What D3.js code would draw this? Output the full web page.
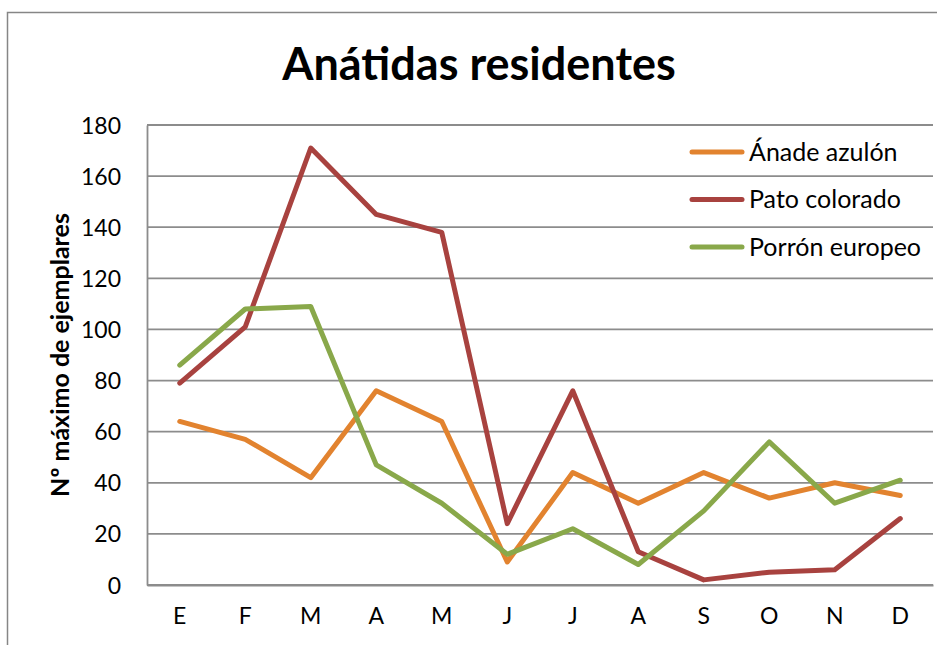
<!DOCTYPE html>
<html>
<head>
<meta charset="utf-8">
<script src="https://cdn.jsdelivr.net/npm/d3@7"></script>
<style>
  body { margin: 0; background: #fff; }
  text { font-family: Lato, "Noto Sans", sans-serif; fill: #000; }
</style>
</head>
<body>
<div id="chart"></div>
<script>
const svgWidth = 937
const svgHeight = 645

// chart data
const months = ["E", "F", "M", "A", "M", "J", "J", "A", "S", "O", "N", "D"]
const seriesNames = ["Ánade azulón", "Pato colorado", "Porrón europeo"]
const anadeAzulon = [64, 57, 42, 76, 64, 9, 44, 32, 44, 34, 40, 35]
const patoColorado = [79, 101, 171, 145, 138, 24, 76, 13, 2, 5, 6, 26]
const porronEuropeo = [86, 108, 109, 47, 32, 12, 22, 8, 29, 56, 32, 41]
const yTicks = [0, 20, 40, 60, 80, 100, 120, 140, 160, 180]

const colors = ["#E2832F", "#A8423F", "#89A84A"]

let margin = { top: 125, right: 4, bottom: 60, left: 147 }
let width = svgWidth - margin.left - margin.right
let height = svgHeight - margin.top - margin.bottom

let svg = d3
  .select("#chart")
  .append("svg")
  .attr("width", svgWidth)
  .attr("height", svgHeight)

// outer chart frame
svg.append("rect")
  .attr("x", 7.5)
  .attr("y", 12.5)
  .attr("width", 960)
  .attr("height", 700)
  .attr("fill", "none")
  .attr("stroke", "#868686")
  .attr("stroke-width", 1.5)

svg.append("text")
  .attr("x", 479)
  .attr("y", 80)
  .attr("text-anchor", "middle")
  .attr("font-size", "45px")
  .attr("font-weight", "bold")
  .text("Anátidas residentes")

let chartGroup = svg
  .append("g")
  .attr("transform", `translate(${margin.left}, ${margin.top})`)

let x = d3.scaleBand()
  .domain(d3.range(months.length))
  .range([0, width])

let y = d3.scaleLinear()
  .domain([0, 180])
  .range([height, 0])

// gridlines
chartGroup.append("g")
  .selectAll("line")
  .data(yTicks)
  .enter()
  .append("line")
  .attr("x1", 0)
  .attr("x2", width)
  .attr("y1", d => y(d))
  .attr("y2", d => y(d))
  .attr("stroke", "#8c8c8c")
  .attr("stroke-width", 1.8)

// y axis
let yAxis = chartGroup.append("g")
  .call(d3.axisLeft(y).tickValues(yTicks).tickSize(0).tickPadding(26))
yAxis.select(".domain").attr("stroke", "#8c8c8c").attr("stroke-width", 1.8)
yAxis.selectAll("text").attr("font-size", "23px").attr("dy", "0.35em")

// x axis
let xAxis = chartGroup.append("g")
  .attr("transform", `translate(0, ${height})`)
  .call(d3.axisBottom(x).tickFormat(i => months[i]).tickSize(0).tickPadding(23))
xAxis.select(".domain").attr("stroke", "#8c8c8c").attr("stroke-width", 1.8)
xAxis.selectAll("text").attr("font-size", "23px")

// axis title
svg.append("text")
  .attr("transform", "translate(69, 355) rotate(-90)")
  .attr("text-anchor", "middle")
  .attr("font-size", "25px")
  .attr("font-weight", "bold")
  .text("Nº máximo de ejemplares")

let allSeries = [anadeAzulon, patoColorado, porronEuropeo]

let line = d3.line()
  .x((d, i) => x(i) + x.bandwidth() / 2)
  .y(d => y(d))

chartGroup.selectAll("path.series")
  .data(allSeries)
  .enter()
  .append("path")
  .classed("series", true)
  .attr("d", line)
  .attr("fill", "none")
  .attr("stroke", (d, i) => colors[i])
  .attr("stroke-width", 5)
  .attr("stroke-linejoin", "round")
  .attr("stroke-linecap", "round")

// legend
let legend = svg.append("g")
  .attr("transform", "translate(692, 152)")

let legendItems = legend.selectAll("g")
  .data(seriesNames)
  .enter()
  .append("g")
  .attr("transform", (d, i) => `translate(0, ${i * 47.5})`)

legendItems.append("line")
  .attr("x1", 0)
  .attr("x2", 50)
  .attr("stroke", (d, i) => colors[i])
  .attr("stroke-width", 5)
  .attr("stroke-linecap", "round")

legendItems.append("text")
  .attr("x", 57)
  .attr("dy", "0.35em")
  .attr("font-size", "25px")
  .text(d => d)
</script>
</body>
</html>
